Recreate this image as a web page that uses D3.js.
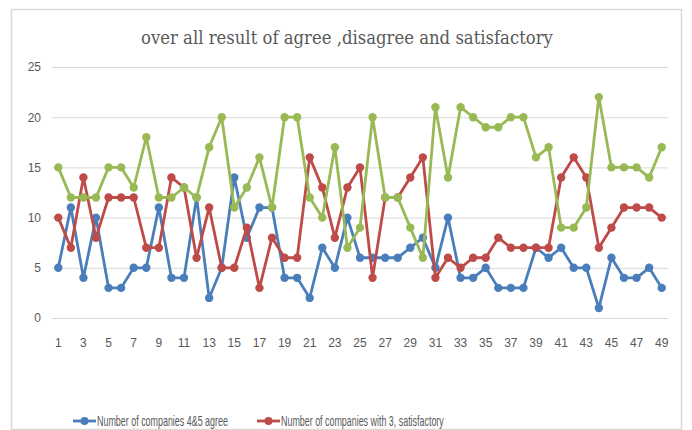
<!DOCTYPE html>
<html>
<head>
<meta charset="utf-8">
<script src="https://cdn.jsdelivr.net/npm/d3@7"></script>
<style>
body { margin: 0; background: #fff; }
text { fill: #595959; }
</style>
</head>
<body>
<div class="chart"></div>
<script>
const width = 692, height = 430;

const days = d3.range(1, 50);
const yTicks = [0, 5, 10, 15, 20, 25];

const agree = [5,11,4,10,3,3,5,5,11,4,4,12,2,5,14,8,11,11,4,4,2,7,5,10,6,6,6,6,7,8,5,10,4,4,5,3,3,3,7,6,7,5,5,1,6,4,4,5,3];
const satisfactory = [10,7,14,8,12,12,12,7,7,14,13,6,11,5,5,9,3,8,6,6,16,13,8,13,15,4,12,12,14,16,4,6,5,6,6,8,7,7,7,7,14,16,14,7,9,11,11,11,10];
const disagree = [15,12,12,12,15,15,13,18,12,12,13,12,17,20,11,13,16,11,20,20,12,10,17,7,9,20,12,12,9,6,21,14,21,20,19,19,20,20,16,17,9,9,11,22,15,15,15,14,17];

// only the first two legend entries are visible in the original picture
const legendNames = ['Number of companies 4&5 agree', 'Number of companies with 3, satisfactory'];
const colors = ['#4a7ebb', '#be4b48', '#98b954'];

const series = [agree, satisfactory, disagree].map((v, i) => ({ color: colors[i], values: v }));

const svg = d3.select('.chart').append('svg')
  .attr('width', width)
  .attr('height', height);

// squeeze a text to a given width (the original uses narrow Office fonts)
const squeeze = (sel, w) => {
  const natural = sel.node().getComputedTextLength();
  const k = Math.min(1, w / natural);
  sel.attr('transform', `translate(${+sel.attr('x')},${+sel.attr('y')}) scale(${k},1)`)
    .attr('x', 0).attr('y', 0);
};

// outer chart border
svg.append('rect')
  .attr('x', 11.5).attr('y', 9.5)
  .attr('width', 670).attr('height', 420)
  .attr('fill', '#fff')
  .attr('stroke', '#d9d9d9')
  .attr('stroke-width', 1.5);

svg.append('text')
  .attr('x', 141).attr('y', 44)
  .style('font-family', '"DejaVu Serif", "Liberation Serif", serif')
  .style('font-size', '18px')
  .text('over all result of agree ,disagree and satisfactory')
  .call(squeeze, 412);

const x = d3.scaleBand()
  .domain(days)
  .range([52, 668]);

const y = d3.scaleLinear()
  .domain([0, 25])
  .range([318, 67]);

const xc = d => x(d) + x.bandwidth() / 2;

const yAxis = svg.append('g')
  .attr('transform', 'translate(52,0)')
  .call(d3.axisLeft(y).tickValues(yTicks).tickSize(-616).tickPadding(11));
yAxis.select('.domain').remove();
yAxis.selectAll('line').attr('stroke', '#d9d9d9');
yAxis.selectAll('text')
  .style('font-family', '"Liberation Sans", Arial, sans-serif')
  .style('font-size', '12px')
  .attr('fill', '#595959');

const xAxis = svg.append('g')
  .attr('transform', 'translate(0,318)')
  .call(d3.axisBottom(x).tickValues(days.filter(d => d % 2 === 1)).tickSize(0).tickPadding(20));
xAxis.select('.domain').remove();
xAxis.selectAll('text')
  .style('font-family', '"Liberation Sans", Arial, sans-serif')
  .style('font-size', '12px')
  .attr('fill', '#595959');

const line = d3.line()
  .x((d, i) => xc(days[i]))
  .y(d => y(d));

series.forEach(s => {
  const g = svg.append('g');
  g.append('path')
    .datum(s.values)
    .attr('d', line)
    .attr('fill', 'none')
    .attr('stroke', s.color)
    .attr('stroke-width', 2.8)
    .attr('stroke-linejoin', 'round');
  g.selectAll('circle')
    .data(s.values)
    .enter()
    .append('circle')
    .attr('cx', (d, i) => xc(days[i]))
    .attr('cy', d => y(d))
    .attr('r', 4.2)
    .attr('fill', s.color);
});

const legendX = [73, 257];
const legendW = [131, 163];
legendNames.forEach((name, i) => {
  const g = svg.append('g').attr('transform', `translate(${legendX[i]},421)`);
  g.append('line')
    .attr('x1', 0).attr('x2', 23)
    .attr('stroke', colors[i]).attr('stroke-width', 2.8);
  g.append('circle')
    .attr('cx', 11.5).attr('r', 4).attr('fill', colors[i]);
  g.append('text')
    .attr('x', 24).attr('y', 5)
    .style('font-family', '"Liberation Sans", Arial, sans-serif')
    .style('font-size', '14px')
    .text(name)
    .call(squeeze, legendW[i]);
});
</script>
</body>
</html>
